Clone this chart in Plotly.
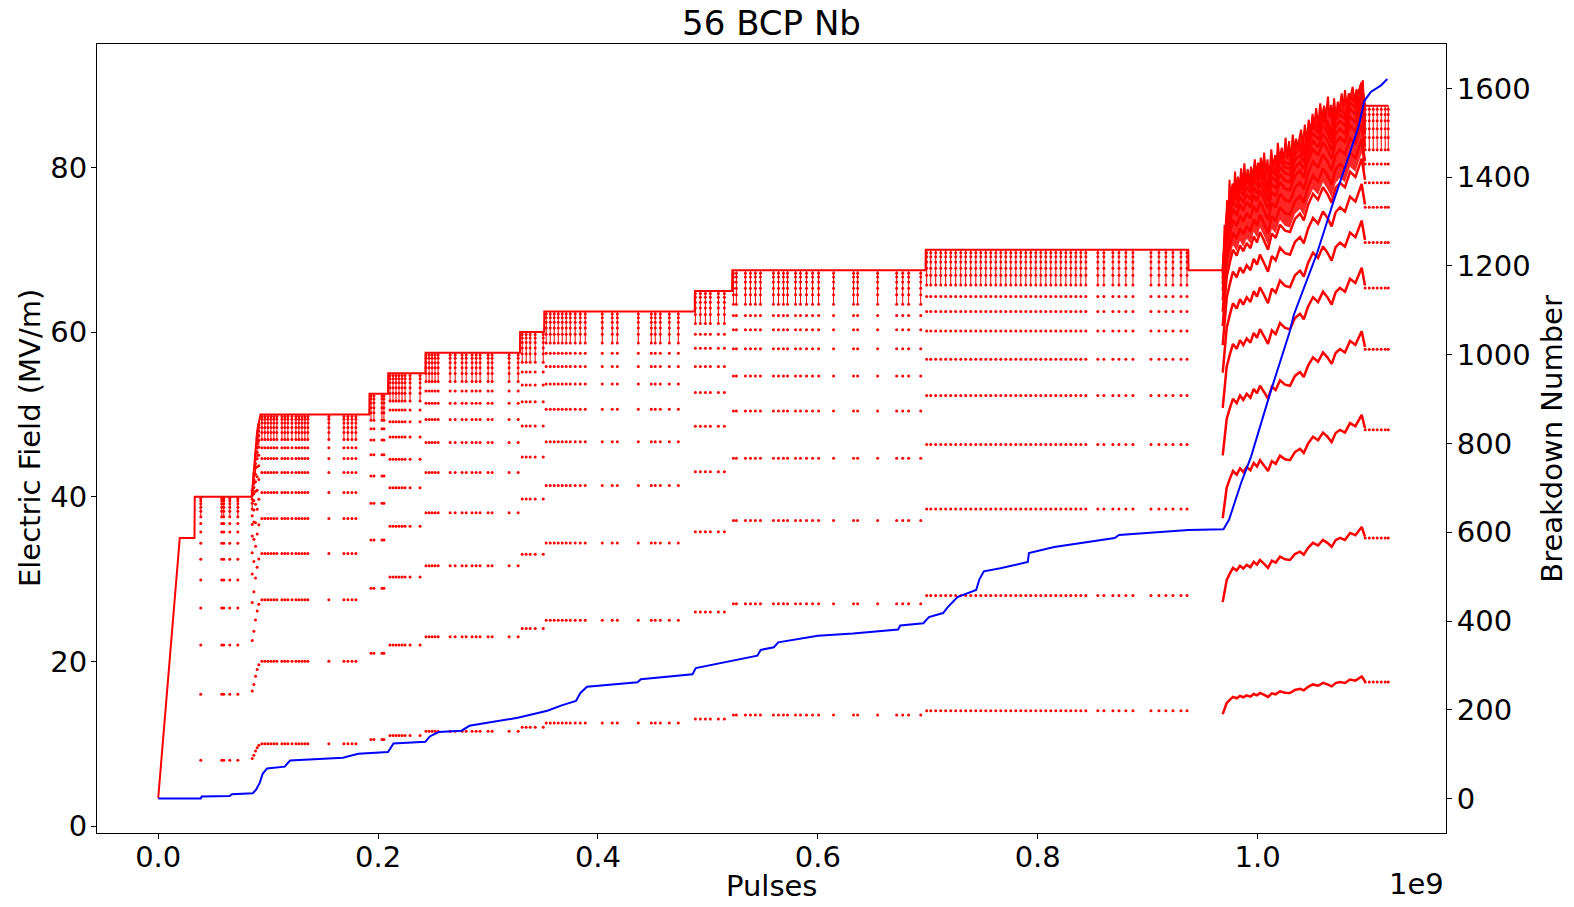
import numpy as np
import plotly.graph_objects as go

# pulses are stored in units of 1e9
# --- set-point trace (stepped conditioning) ---
main_x = [0.0, 0.0196, 0.033, 0.0332, 0.085, 0.0875, 0.090, 0.093, 0.192, 0.1922,
          0.209, 0.2092, 0.243, 0.2432, 0.329, 0.3292, 0.351, 0.3512, 0.488, 0.4882,
          0.522, 0.5222, 0.698, 0.6982, 0.937, 0.9372]
main_e = [3.4, 35, 35, 40, 40, 44, 48, 50, 50, 52.5,
          52.5, 55, 55, 57.5, 57.5, 60, 60, 62.5, 62.5, 65,
          65, 67.5, 67.5, 70, 70, 67.5]

# --- final ramp phase: field trace with breakdown spikes ---
final_x = [0.9686, 0.9700, 0.9710, 0.9722, 0.9732, 0.9745, 0.9755, 0.9765, 0.9780, 0.9795,
           0.9805, 0.9820, 0.9835, 0.9850, 0.9862, 0.9880, 0.9892, 0.9910, 0.9925, 0.9940,
           0.9955, 0.9975, 0.9990, 1.0005, 1.0018, 1.0030, 1.0045, 1.0060, 1.0075, 1.0090,
           1.0105, 1.0125, 1.0140, 1.0160, 1.0172, 1.0184, 1.0200, 1.0220, 1.0235, 1.0255,
           1.0270, 1.0287, 1.0300, 1.0320, 1.0335, 1.0350, 1.0365, 1.0396, 1.0410, 1.0430,
           1.0445, 1.0465, 1.0480, 1.0500, 1.0515, 1.0533, 1.0550, 1.0570, 1.0585, 1.0605,
           1.0620, 1.0640, 1.0655, 1.0670, 1.0680, 1.0696, 1.0712, 1.0730, 1.0745, 1.0765,
           1.0780, 1.0795, 1.0810, 1.0830, 1.0845, 1.0865, 1.0880, 1.0900, 1.0915, 1.0935,
           1.0945, 1.0958, 1.0965, 1.1189]
final_e = [67.5, 73.0, 70.0, 76.0, 73.0, 78.5, 75.0, 77.3, 75.5, 79.5,
           76.5, 78.9, 77.0, 79.9, 77.5, 80.5, 78.0, 79.8, 78.0, 80.1,
           78.5, 81.0, 79.0, 80.6, 79.5, 81.2, 79.5, 81.8, 79.0, 81.0,
           78.5, 82.2, 80.0, 81.5, 80.0, 83.0, 81.0, 82.4, 80.5, 83.6,
           81.0, 83.2, 80.5, 84.0, 82.0, 83.5, 82.5, 84.6, 82.5, 85.2,
           83.0, 85.8, 84.0, 86.5, 85.0, 87.2, 85.0, 87.8, 86.0, 87.5,
           86.0, 88.6, 86.0, 87.6, 85.0, 88.4, 86.0, 88.0, 87.0, 89.0,
           87.0, 89.4, 87.5, 89.0, 88.5, 89.8, 88.0, 89.5, 88.5, 90.0,
           89.0, 90.6, 87.5, 87.5]

# set point at which the final-phase breakdowns happened
base_x = [0.9683, 0.9700, 0.9719, 0.9745, 0.9776, 0.9810, 0.9840, 0.9870, 0.9901, 0.9935,
          0.9965, 0.9995, 1.0022, 1.0060, 1.0095, 1.0130, 1.0165, 1.0204, 1.0250, 1.0295,
          1.0340, 1.0386, 1.0420, 1.0460, 1.0504, 1.0550, 1.0595, 1.0635, 1.0674, 1.0710,
          1.0750, 1.0795, 1.0841, 1.0890, 1.0947, 1.0977]
base_e = [68.0, 71.5, 74.7, 76.5, 78.4, 77.6, 79.0, 78.2, 79.3, 78.6,
          80.2, 79.4, 80.8, 79.6, 78.4, 80.6, 80.0, 81.8, 81.0, 80.8,
          82.6, 83.3, 82.4, 84.5, 86.0, 85.2, 86.9, 86.0, 84.8, 86.8,
          87.5, 86.9, 89.0, 88.3, 90.8, 87.9]

# recovery levels after a breakdown, as fraction of the set point
recovery_frac = [0.20, 0.40, 0.55, 0.662, 0.747, 0.81, 0.859, 0.893, 0.919,
                 0.939, 0.956, 0.968, 0.979, 0.988, 0.995]

# breakdown clusters per plateau
bd_40 = [0.0387, 0.0578, 0.0596, 0.0651, 0.0724]
bd_ramp_x = [0.0855, 0.0870, 0.0885, 0.0900, 0.0915]
bd_ramp_e = [41, 43, 45.5, 47.5, 49]
bd_50 = [0.0943, 0.0970, 0.0997, 0.1025, 0.1052, 0.1079, 0.1125, 0.1152, 0.1179, 0.1216,
         0.1252, 0.1279, 0.1307, 0.1334, 0.1361, 0.1552, 0.1689, 0.1725, 0.1762, 0.1798]
bd_52 = [0.1935, 0.1962, 0.2035, 0.2053]
bd_55 = [0.2108, 0.2136, 0.2163, 0.2190, 0.2218, 0.2245, 0.2291, 0.2382]
bd_57 = [0.2436, 0.2464, 0.2491, 0.2518, 0.2546, 0.2655, 0.2701, 0.2764, 0.2801, 0.2855,
         0.2892, 0.2928, 0.3001, 0.3037, 0.3192, 0.3274]
bd_60 = [0.3311, 0.3347, 0.3383, 0.3429, 0.3502]
bd_62 = [0.3529, 0.3566, 0.3602, 0.3639, 0.3675, 0.3711, 0.3748, 0.3793, 0.3839, 0.3884,
         0.4039, 0.4130, 0.4176, 0.4367, 0.4485, 0.4521, 0.4567, 0.4649, 0.4731]
bd_65 = [0.4886, 0.4931, 0.4977, 0.5022, 0.5095, 0.5150]
bd_67 = [0.5232, 0.5259, 0.5341, 0.5387, 0.5432, 0.5478, 0.5596, 0.5642, 0.5687, 0.5724,
         0.5797, 0.5842, 0.5897, 0.5952, 0.6007, 0.6143, 0.6325, 0.6362, 0.6544, 0.6717,
         0.6772, 0.6826, 0.6936]
bd_70 = [0.6990, 0.7027, 0.7072, 0.7118, 0.7163, 0.7209, 0.7254, 0.7300, 0.7345, 0.7391,
         0.7437, 0.7482, 0.7528, 0.7573, 0.7619, 0.7664, 0.7710, 0.7755, 0.7801, 0.7846,
         0.7892, 0.7937, 0.7983, 0.8028, 0.8074, 0.8119, 0.8165, 0.8210, 0.8256, 0.8301,
         0.8347, 0.8392, 0.8438, 0.8547, 0.8602, 0.8684, 0.8739, 0.8802, 0.8866, 0.9030,
         0.9103, 0.9166, 0.9230, 0.9303, 0.9358]
bd_87 = [1.0979, 1.1016, 1.1052, 1.1088, 1.1125, 1.1161, 1.1189]

plateaus = [(40, bd_40), (50, bd_50), (52.5, bd_52), (55, bd_55), (57.5, bd_57),
            (60, bd_60), (62.5, bd_62), (65, bd_65), (67.5, bd_67), (70, bd_70),
            (87.5, bd_87)]

# --- cumulative breakdown count ---
bd_count_x = [0.0, 0.0387, 0.0395, 0.065, 0.067, 0.086, 0.089, 0.0924, 0.095, 0.099,
              0.115, 0.12, 0.168, 0.182, 0.209, 0.214, 0.243, 0.247, 0.255, 0.276,
              0.283, 0.295, 0.327, 0.354, 0.367, 0.38, 0.384, 0.39, 0.436, 0.439,
              0.486, 0.489, 0.523, 0.545, 0.548, 0.56, 0.564, 0.6, 0.632, 0.673,
              0.675, 0.696, 0.701, 0.714, 0.718, 0.727, 0.744, 0.747, 0.751, 0.766,
              0.791, 0.792, 0.815, 0.87, 0.874, 0.937, 0.969, 0.974, 0.985, 0.994,
              1.012, 1.029, 1.033, 1.054, 1.061, 1.069, 1.079, 1.092, 1.097, 1.103,
              1.112, 1.118]
bd_count = [0, 0, 5, 6, 10, 12, 20, 36, 56, 68,
            72, 86, 92, 101, 105, 124, 128, 140, 150, 153,
            164, 169, 182, 198, 210, 220, 238, 252, 262, 269,
            280, 294, 311, 322, 335, 341, 352, 367, 372, 381,
            390, 395, 409, 418, 431, 454, 470, 494, 512, 519,
            533, 553, 567, 587, 594, 605, 607, 628, 711, 770,
            918, 1050, 1090, 1228, 1282, 1345, 1418, 1515, 1571, 1592,
            1606, 1621]

RED = "#ff0000"
BLUE = "#0000ff"
FONT = "DejaVu Sans"

# recovery dots and the comb of lines under each plateau
dot_x, dot_y = [], []
comb_x, comb_y = [], []
clusters = [(x, lvl) for lvl, xs in plateaus for x in xs]
clusters += list(zip(bd_ramp_x, bd_ramp_e))
for x, lvl in clusters:
    for f in recovery_frac:
        dot_x.append(x)
        dot_y.append(f * lvl)
    comb_x += [x, x, None]
    comb_y += [0.94 * lvl, lvl, None]

fig = go.Figure()

fig.add_trace(go.Scatter(x=dot_x, y=dot_y, mode="markers",
                         marker=dict(color=RED, size=3, line=dict(width=0)),
                         showlegend=False, hoverinfo="skip"))
fig.add_trace(go.Scatter(x=comb_x, y=comb_y, mode="lines",
                         line=dict(color=RED, width=1), showlegend=False, hoverinfo="skip"))

# final phase: dense band under the spikes, then the recovery rows
be = np.array(base_e)
fig.add_trace(go.Scatter(x=base_x, y=0.9 * be, mode="lines", line=dict(width=0),
                         showlegend=False, hoverinfo="skip"))
fig.add_trace(go.Scatter(x=final_x[:-1], y=final_e[:-1], mode="lines", line=dict(width=0),
                         fill="tonexty", fillcolor="rgba(255,0,0,0.85)",
                         showlegend=False, hoverinfo="skip"))
for f in recovery_frac:
    fig.add_trace(go.Scatter(x=base_x, y=f * be, mode="lines",
                             line=dict(color=RED, width=2.5),
                             showlegend=False, hoverinfo="skip"))

# field trace
fig.add_trace(go.Scatter(x=main_x + final_x, y=main_e + final_e, mode="lines",
                         line=dict(color=RED, width=2), showlegend=False))

# breakdown number on the right axis
fig.add_trace(go.Scatter(x=bd_count_x, y=bd_count, mode="lines", yaxis="y2",
                         line=dict(color=BLUE, width=2), showlegend=False))

axis_common = dict(showline=True, linecolor="black", linewidth=1, ticks="outside",
                   ticklen=5, tickwidth=1, tickcolor="black", showgrid=False,
                   zeroline=False, tickfont=dict(family=FONT, size=29, color="black"))

fig.update_layout(
    width=1574, height=907,
    margin=dict(l=97, r=128, t=44, b=74),
    paper_bgcolor="white", plot_bgcolor="white",
    title=dict(text="56 BCP Nb", x=0.5, xref="paper", y=0.9746, yref="container",
               yanchor="middle", font=dict(family=FONT, size=34, color="black")),
    xaxis=dict(range=[-0.0557, 1.1714], tickvals=[0, 0.2, 0.4, 0.6, 0.8, 1.0],
               ticktext=["0.0", "0.2", "0.4", "0.6", "0.8", "1.0"], mirror=True,
               ticklabelstandoff=-7, **axis_common),
    yaxis=dict(range=[-0.85, 95.0], tickvals=[0, 20, 40, 60, 80], mirror=True,
               ticklabelstandoff=-2, **axis_common),
    yaxis2=dict(range=[-77.5, 1700], tickvals=list(range(0, 1601, 200)),
                overlaying="y", side="right", ticklabelstandoff=-1, **axis_common),
    annotations=[
        dict(text="Pulses", x=0.5, y=-0.067, xref="paper", yref="paper",
             showarrow=False, yanchor="middle",
             font=dict(family=FONT, size=29, color="black")),
        dict(text="1e9", x=1.0, y=-0.065, xref="paper", yref="paper",
             showarrow=False, xanchor="right", yanchor="middle",
             font=dict(family=FONT, size=29, color="black")),
        dict(text="Electric Field (MV/m)", x=-0.05, y=0.5, xref="paper", yref="paper",
             showarrow=False, textangle=-90, xanchor="center", yanchor="middle",
             font=dict(family=FONT, size=29, color="black")),
        dict(text="Breakdown Number", x=1.078, y=0.5, xref="paper", yref="paper",
             showarrow=False, textangle=-90, xanchor="center", yanchor="middle",
             font=dict(family=FONT, size=29, color="black")),
    ],
)

# drop the browser's default 8px body margin so the figure fills the window
fig.write_html("out.html", config={"displayModeBar": False},
               post_script="document.body.style.margin='0px';")
